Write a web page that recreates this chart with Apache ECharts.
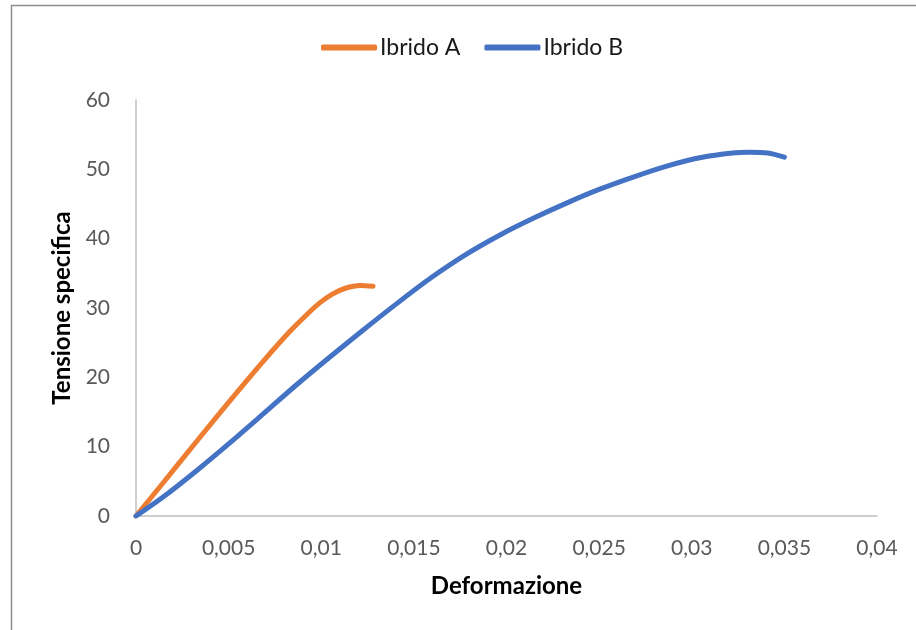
<!DOCTYPE html>
<html>
<head>
<meta charset="utf-8">
<script src="https://cdn.jsdelivr.net/npm/echarts@6/dist/echarts.min.js"></script>
<style>
html,body{margin:0;padding:0;background:#fff;}
#c{width:916px;height:630px;}
</style>
</head>
<body>
<div id="c"></div>
<script>
const seriesNames = ["Ibrido A", "Ibrido B"];
const ibridoA = [
  [0,0],[0.0015,4.9],[0.0033,10.85],[0.0051,16.7],[0.0069,22.4],[0.0083,26.6],
  [0.0092,29.0],[0.0099,30.7],[0.0106,32.0],[0.0113,32.85],[0.0121,33.25],[0.0128,33.15]
];
const ibridoB = [
  [0,0],[0.0015,2.8],[0.0033,6.6],[0.005,10.4],[0.0069,14.8],[0.0087,19.0],
  [0.0105,23.0],[0.0123,26.9],[0.0143,31.1],[0.016,34.5],[0.0178,37.7],
  [0.0197,40.6],[0.0215,43.0],[0.0233,45.2],[0.025,47.1],[0.0268,48.85],
  [0.0287,50.5],[0.0305,51.7],[0.0322,52.35],[0.0331,52.45],[0.0341,52.35],[0.035,51.75]
];
const xAxisTitle = "Deformazione";
const yAxisTitle = "Tensione specifica";
const xRange = [0, 0.04, 0.005];
const yRange = [0, 60, 10];

const FONT = "Lato, 'Open Sans', sans-serif";
const chart = echarts.init(document.getElementById('c'));
chart.setOption({
  backgroundColor: '#fff',
  animation: false,
  graphic: [{
    type: 'rect',
    shape: {x: 11.5, y: 5.5, width: 1200, height: 1200},
    style: {fill: 'none', stroke: '#8c8c8c', lineWidth: 1.5},
    silent: true, z: -1
  }],
  legend: {
    data: seriesNames,
    left: 316, top: 31,
    icon: 'roundRect',
    itemWidth: 56, itemHeight: 6, itemGap: 24,
    textStyle: {fontFamily: FONT, fontSize: 23, color: '#1a1a1a', padding: [0,0,0,-2]}
  },
  grid: {left: 136, right: 39, top: 100, bottom: 114, containLabel: false},
  xAxis: {
    type: 'value', min: xRange[0], max: xRange[1], interval: xRange[2],
    name: xAxisTitle, nameLocation: 'middle', nameGap: 58,
    nameTextStyle: {fontFamily: FONT, fontSize: 24, fontWeight: 'bold', color: '#000'},
    axisLine: {show: true, lineStyle: {color: '#bfbfbf', width: 1.5}},
    axisTick: {show: false},
    splitLine: {show: false},
    axisLabel: {
      fontFamily: FONT, fontSize: 21, color: '#595959', margin: 22,
      formatter: v => String(Number(v.toFixed(4))).replace('.', ',')
    }
  },
  yAxis: {
    type: 'value', min: yRange[0], max: yRange[1], interval: yRange[2],
    name: yAxisTitle, nameLocation: 'middle', nameGap: 62, nameRotate: 90,
    nameTextStyle: {fontFamily: FONT, fontSize: 24, fontWeight: 'bold', color: '#000'},
    axisLine: {show: true, lineStyle: {color: '#bfbfbf', width: 1.5}},
    axisTick: {show: false},
    splitLine: {show: false},
    axisLabel: {fontFamily: FONT, fontSize: 21, color: '#595959', margin: 26}
  },
  series: [
    {name: seriesNames[0], type: 'line', data: ibridoA, smooth: 0.3, symbol: 'none',
     lineStyle: {color: '#ED7D31', width: 5, cap: 'round'}, itemStyle: {color: '#ED7D31'}},
    {name: seriesNames[1], type: 'line', data: ibridoB, smooth: 0.3, symbol: 'none',
     lineStyle: {color: '#4472C4', width: 5, cap: 'round'}, itemStyle: {color: '#4472C4'}}
  ]
});
</script>
</body>
</html>
